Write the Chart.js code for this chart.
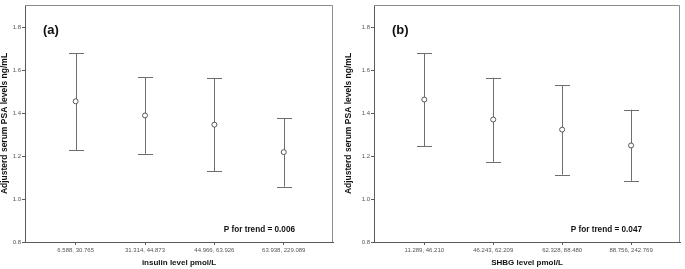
<!DOCTYPE html>
<html>
<head>
  <title>PSA by insulin and SHBG level</title>
  <script src="https://cdn.jsdelivr.net/npm/chart.js"></script>
  <style>
    body {
      margin: 0;
      padding: 0;
      background-color: white;
      overflow: hidden;
    }
    .panel {
      position: absolute;
      top: 0;
    }
  </style>
</head>
<body>
  <div class="panel" style="left:0"><canvas id="chartA" width="340" height="269"></canvas></div>
  <div class="panel" style="left:340px"><canvas id="chartB" width="345" height="269"></canvas></div>

  <script>
    // Panel (a): insulin quartiles
    const insulinLabels = ['6.588, 30.765', '31.314, 44.873', '44.966, 63.926', '63.938, 229.089'];
    const insulinMean = [1.456, 1.390, 1.347, 1.219];
    const insulinLow = [1.229, 1.211, 1.130, 1.058];
    const insulinHigh = [1.679, 1.567, 1.563, 1.376];

    // Panel (b): SHBG quartiles
    const shbgLabels = ['11.289, 46.210', '46.243, 62.209', '62.328, 88.480', '88.756, 242.769'];
    const shbgMean = [1.464, 1.371, 1.324, 1.250];
    const shbgLow = [1.247, 1.174, 1.114, 1.085];
    const shbgHigh = [1.679, 1.566, 1.530, 1.417];

    const yTicks = [0.8, 1.0, 1.2, 1.4, 1.6, 1.8];

    const lineColor = '#6e6e6e';
    const axisColor = '#5a5a5a';
    const frameColor = '#8c8c8c';
    const textFont = "'Liberation Sans', Arial, sans-serif";

    // draws whiskers with caps from the low/high arrays
    const errorBars = {
      id: 'errorBars',
      beforeDatasetsDraw(chart, args, opts) {
        const ctx = chart.ctx;
        const xs = chart.scales.x, ys = chart.scales.y;
        ctx.save();
        ctx.strokeStyle = lineColor;
        ctx.lineWidth = 1;
        opts.low.forEach((lo, i) => {
          const px = Math.round(xs.getPixelForValue(i + 1)) + 0.5;
          const yLo = ys.getPixelForValue(lo);
          const yHi = ys.getPixelForValue(opts.high[i]);
          ctx.beginPath();
          ctx.moveTo(px, yLo);
          ctx.lineTo(px, yHi);
          ctx.moveTo(px - 7.5, Math.round(yLo) + 0.5);
          ctx.lineTo(px + 7.5, Math.round(yLo) + 0.5);
          ctx.moveTo(px - 7.5, Math.round(yHi) + 0.5);
          ctx.lineTo(px + 7.5, Math.round(yHi) + 0.5);
          ctx.stroke();
        });
        ctx.restore();
      },
      afterDraw(chart, args, opts) {
        const ctx = chart.ctx;
        const a = chart.chartArea;
        ctx.save();
        // light frame on top and right
        ctx.strokeStyle = frameColor;
        ctx.lineWidth = 1;
        ctx.beginPath();
        ctx.moveTo(a.left, a.top + 0.5);
        ctx.lineTo(a.right - 0.5, a.top + 0.5);
        ctx.lineTo(a.right - 0.5, a.bottom);
        ctx.stroke();
        // panel letter
        ctx.fillStyle = '#111';
        ctx.textBaseline = 'middle';
        ctx.textAlign = 'left';
        ctx.font = 'bold 13px ' + textFont;
        ctx.fillText(opts.letter, a.left + 18, a.top + 25);
        // trend p-value
        ctx.font = 'bold 8.2px ' + textFont;
        ctx.textAlign = 'right';
        ctx.fillText(opts.pText, a.right - 38, a.bottom - 12);
        ctx.restore();
      }
    };

    function makeChart(id, labels, mean, low, high, xTitle, letter, pText, padLeft, yWidth, padRight) {
      const ctx = document.getElementById(id).getContext('2d');
      return new Chart(ctx, {
        type: 'scatter',
        data: {
          datasets: [{
            data: mean.map((m, i) => ({ x: i + 1, y: m })),
            pointStyle: 'circle',
            pointRadius: 2.5,
            pointBorderWidth: 1,
            pointBackgroundColor: 'white',
            pointBorderColor: '#555',
            showLine: false
          }]
        },
        options: {
          responsive: false,
          animation: false,
          events: [],
          layout: { padding: { left: padLeft, right: padRight, top: 1, bottom: 0 } },
          plugins: {
            legend: { display: false },
            tooltip: { enabled: false },
            errorBars: { low: low, high: high, letter: letter, pText: pText }
          },
          scales: {
            x: {
              type: 'linear',
              min: 0.27,
              max: 4.71,
              afterBuildTicks(scale) {
                scale.ticks = labels.map((l, i) => ({ value: i + 1 }));
              },
              afterFit(scale) { scale.height = 27; },
              grid: { drawOnChartArea: false, drawTicks: true, tickLength: 3, color: axisColor },
              border: { color: axisColor, width: 1 },
              ticks: {
                padding: 2,
                maxRotation: 0,
                autoSkip: false,
                color: '#555',
                font: { family: textFont, size: 6 },
                callback: (v) => labels[Math.round(v) - 1]
              },
              title: {
                display: true,
                text: xTitle,
                color: '#111',
                font: { family: textFont, size: 8, weight: 'bold' },
                padding: { top: 0, bottom: 1 }
              }
            },
            y: {
              min: 0.8,
              max: 1.905,
              afterBuildTicks(scale) {
                scale.ticks = yTicks.map(v => ({ value: v }));
              },
              afterFit(scale) { scale.width = yWidth; },
              grid: { drawOnChartArea: false, drawTicks: true, tickLength: 3, color: axisColor },
              border: { color: axisColor, width: 1 },
              ticks: {
                padding: 1,
                color: '#555',
                font: { family: textFont, size: 6 },
                callback: (v) => Number(v).toFixed(1)
              },
              title: {
                display: true,
                text: 'Adjusterd serum PSA levels ng/mL',
                color: '#111',
                font: { family: textFont, size: 8.5, weight: 'bold' },
                padding: { top: 0, bottom: 0 }
              }
            }
          }
        },
        plugins: [errorBars]
      });
    }

    makeChart('chartA', insulinLabels, insulinMean, insulinLow, insulinHigh,
      'insulin level pmol/L', '(a)', 'P for trend = 0.006', 0, 25, 7);
    makeChart('chartB', shbgLabels, shbgMean, shbgLow, shbgHigh,
      'SHBG level pmol/L', '(b)', 'P for trend = 0.047', 4, 30, 2);
  </script>
</body>
</html>
